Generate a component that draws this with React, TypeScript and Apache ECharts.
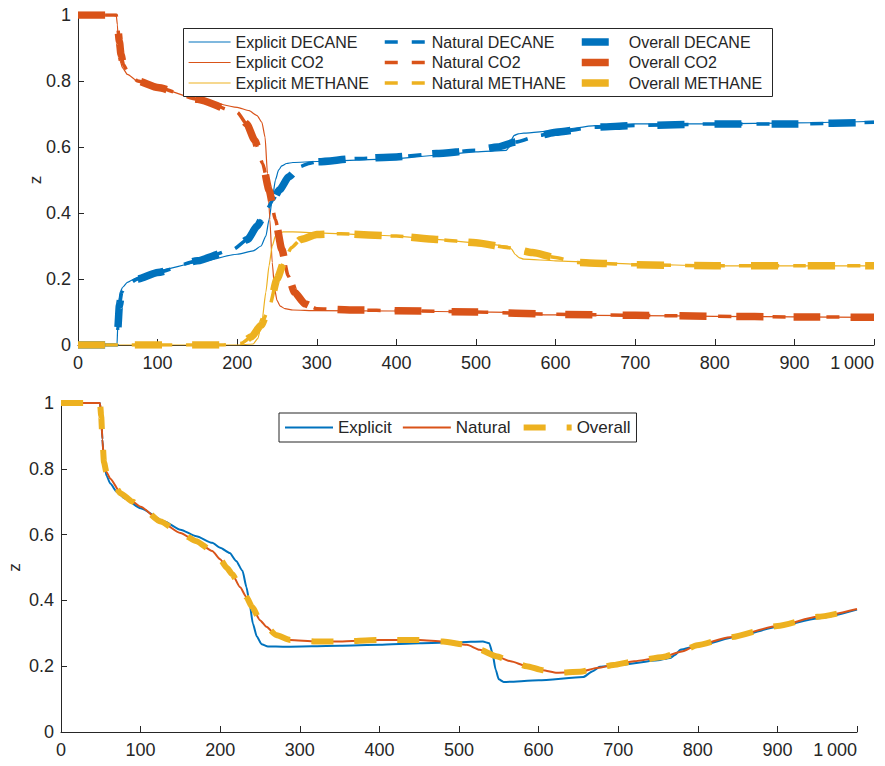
import React, { useEffect, useRef } from "react";
import * as echarts from "echarts";

const BLUE = "#0072BD";
const ORANGE = "#D95319";
const YELLOW = "#EDB120";
const INK = "#262626";
const FONT = "'Liberation Sans', Arial, Helvetica, sans-serif";

// ---- Upper panel: overall mole fraction z of each component ----
const explicitDecaneX = [0, 49, 50, 51, 53, 56, 62, 75, 100, 150, 200, 220, 230, 236, 240, 244, 248, 252, 256, 262, 270, 300, 350, 400, 450, 500, 538, 542, 545, 548, 553, 560, 600, 650, 700, 800, 900, 1000];
const explicitDecaneZ = [0, 0, 0.06, 0.13, 0.16, 0.175, 0.19, 0.205, 0.225, 0.25, 0.275, 0.285, 0.3, 0.33, 0.38, 0.44, 0.5, 0.53, 0.543, 0.55, 0.553, 0.556, 0.56, 0.565, 0.575, 0.585, 0.59, 0.6, 0.625, 0.635, 0.64, 0.642, 0.65, 0.665, 0.67, 0.67, 0.673, 0.678];

const naturalDecaneX = [0, 49, 50, 52, 55, 60, 75, 100, 150, 195, 213, 225, 237, 245, 253, 265, 278, 290, 300, 350, 400, 450, 500, 527, 550, 580, 600, 650, 700, 800, 900, 1000];
const naturalDecaneZ = [0, 0, 0.05, 0.12, 0.16, 0.18, 0.2, 0.22, 0.255, 0.29, 0.32, 0.36, 0.41, 0.44, 0.47, 0.51, 0.54, 0.55, 0.555, 0.565, 0.57, 0.58, 0.59, 0.6, 0.615, 0.635, 0.645, 0.66, 0.665, 0.67, 0.67, 0.675];

const explicitCo2X = [0, 48, 49.5, 51, 53, 56, 62, 75, 100, 150, 200, 215, 225, 231, 235, 238, 241, 244, 247, 250, 254, 260, 270, 300, 400, 500, 540, 548, 556, 600, 700, 800, 900, 1000];
const explicitCo2Z = [1, 1, 0.97, 0.9, 0.86, 0.84, 0.82, 0.8, 0.78, 0.745, 0.72, 0.71, 0.695, 0.675, 0.63, 0.52, 0.38, 0.25, 0.17, 0.135, 0.118, 0.11, 0.106, 0.104, 0.103, 0.1, 0.099, 0.096, 0.093, 0.091, 0.089, 0.087, 0.085, 0.084];

const naturalCo2X = [0, 48, 50, 52, 54, 57, 62, 75, 100, 150, 200, 212, 222, 232, 240, 248, 256, 264, 272, 285, 300, 350, 400, 500, 600, 700, 800, 900, 1000];
const naturalCo2Z = [1, 1, 0.96, 0.92, 0.88, 0.85, 0.83, 0.8, 0.78, 0.745, 0.705, 0.67, 0.62, 0.55, 0.47, 0.38, 0.29, 0.21, 0.16, 0.125, 0.11, 0.106, 0.104, 0.1, 0.093, 0.09, 0.087, 0.085, 0.084];

const explicitMethaneX = [0, 200, 220, 226, 231, 236, 240, 244, 248, 252, 258, 270, 300, 350, 400, 450, 500, 540, 545, 549, 554, 560, 600, 650, 700, 800, 900, 1000];
const explicitMethaneZ = [0, 0, 0.003, 0.02, 0.07, 0.16, 0.24, 0.3, 0.33, 0.34, 0.343, 0.343, 0.34, 0.335, 0.33, 0.32, 0.31, 0.3, 0.29, 0.275, 0.265, 0.26, 0.255, 0.25, 0.245, 0.24, 0.24, 0.24];

const naturalMethaneX = [0, 180, 205, 218, 230, 241, 250, 260, 268, 280, 300, 330, 400, 450, 500, 540, 571, 600, 626, 650, 700, 800, 900, 1000];
const naturalMethaneZ = [0, 0, 0.005, 0.025, 0.06, 0.12, 0.2, 0.26, 0.295, 0.32, 0.335, 0.337, 0.33, 0.32, 0.31, 0.295, 0.28, 0.265, 0.25, 0.248, 0.243, 0.24, 0.24, 0.24];

// Overall-variable solution coincides with the natural-variable one
const overallDecaneX = naturalDecaneX;
const overallDecaneZ = naturalDecaneZ;
const overallCo2X = naturalCo2X;
const overallCo2Z = naturalCo2Z;
const overallMethaneX = naturalMethaneX;
const overallMethaneZ = naturalMethaneZ;

// ---- Lower panel: single profile z for the three formulations ----
const lowerExplicitX = [0, 49, 50.5, 52, 54, 57, 62, 70, 80, 100, 130, 150, 170, 190, 200, 212, 220, 228, 233, 237, 241, 246, 252, 260, 280, 350, 400, 450, 500, 530, 538, 542, 546, 550, 556, 600, 656, 668, 677, 700, 750, 765, 772, 778, 800, 850, 900, 950, 1000];
const lowerExplicitZ = [1, 1, 0.96, 0.89, 0.82, 0.78, 0.755, 0.73, 0.71, 0.68, 0.64, 0.615, 0.595, 0.575, 0.56, 0.544, 0.52, 0.49, 0.44, 0.39, 0.33, 0.29, 0.267, 0.26, 0.259, 0.262, 0.265, 0.27, 0.273, 0.275, 0.27, 0.24, 0.19, 0.16, 0.152, 0.157, 0.167, 0.185, 0.198, 0.203, 0.218, 0.225, 0.235, 0.25, 0.262, 0.29, 0.32, 0.345, 0.372];

const lowerNaturalX = [0, 49, 50.5, 52, 54, 57, 62, 75, 90, 100, 125, 150, 170, 190, 200, 208, 215, 225, 233, 240, 250, 258, 270, 288, 320, 350, 400, 450, 480, 510, 526, 547, 565, 585, 605, 623, 652, 675, 694, 720, 756, 780, 799, 840, 900, 950, 1000];
const lowerNaturalZ = [1, 1, 0.96, 0.89, 0.82, 0.79, 0.77, 0.725, 0.7, 0.685, 0.64, 0.605, 0.58, 0.55, 0.525, 0.5, 0.48, 0.44, 0.41, 0.38, 0.34, 0.32, 0.295, 0.28, 0.275, 0.275, 0.28, 0.28, 0.275, 0.265, 0.25, 0.23, 0.215, 0.2, 0.188, 0.18, 0.183, 0.195, 0.204, 0.215, 0.228, 0.245, 0.264, 0.288, 0.322, 0.35, 0.374];

const lowerOverallX = lowerNaturalX;
const lowerOverallZ = lowerNaturalZ;

const xTicks = { min: 0, max: 1000, interval: 100 };
const zTicks = { min: 0, max: 1, interval: 0.2 };

const pairs = (xs: number[], zs: number[]) => xs.map((x, i) => [x, zs[i]]);

function curve(
  name: string,
  xs: number[],
  zs: number[],
  color: string,
  width: number,
  dash: number[] | "solid",
  grid: number,
  z: number
) {
  return {
    type: "line",
    name,
    xAxisIndex: grid,
    yAxisIndex: grid,
    data: pairs(xs, zs),
    symbol: "none",
    smooth: 0.2,
    smoothMonotone: "x",
    silent: true,
    z,
    itemStyle: { color },
    lineStyle: { color, width, type: dash, cap: "butt", join: "round" },
  };
}

const thousands = (v: number) =>
  String(v).replace(/\B(?=(\d{3})+(?!\d))/g, "\u2009");

function xAxis(grid: number) {
  return {
    type: "value",
    gridIndex: grid,
    ...xTicks,
    axisLine: { lineStyle: { color: INK, width: 1 } },
    axisTick: { inside: true, length: 6, lineStyle: { color: INK } },
    axisLabel: {
      color: INK,
      fontSize: 18,
      fontFamily: FONT,
      margin: 9,
      formatter: thousands,
      showMaxLabel: true,
      alignMaxLabel: "right",
    },
    splitLine: { show: false },
  };
}

function yAxis(grid: number, nameGap: number) {
  return {
    type: "value",
    gridIndex: grid,
    ...zTicks,
    name: "z",
    nameLocation: "middle",
    nameGap,
    nameMoveOverlap: false,
    nameTextStyle: { color: INK, fontSize: 17, fontFamily: FONT },
    axisLine: { show: true, lineStyle: { color: INK, width: 1 } },
    axisTick: { show: true, inside: true, length: 6, lineStyle: { color: INK } },
    axisLabel: { color: INK, fontSize: 18, fontFamily: FONT, margin: 7 },
    splitLine: { show: false },
  };
}

const NATURAL_DASH = [13, 14];
const OVERALL_DASH = [27, 30];
const LOWER_OVERALL_DASH = [22, 21];

// legend samples show only the stroke, no marker
const hiddenMarker = { opacity: 0, color: "transparent", borderWidth: 0 };

const topLegend = (names: string[], left: number, itemWidth: number) => ({
  data: names,
  left,
  top: 34,
  orient: "vertical",
  padding: 0,
  itemWidth,
  itemHeight: 14,
  itemGap: 4.5,
  selectedMode: false,
  z: 10,
  itemStyle: hiddenMarker,
  lineStyle: { width: "inherit" },
  textStyle: { color: INK, fontSize: 16, lineHeight: 16, fontFamily: FONT },
});

export default function App() {
  const ref = useRef<HTMLDivElement>(null);

  useEffect(() => {
    if (!ref.current) return;
    const chart = echarts.init(ref.current, null, { renderer: "svg" });
    chart.setOption({
      animation: false,
      backgroundColor: "#ffffff",
      textStyle: { fontFamily: FONT },
      grid: [
        { left: 78, top: 15, width: 796, height: 330, containLabel: false, outerBoundsMode: "none" },
        { left: 61, top: 403, width: 796, height: 329, containLabel: false, outerBoundsMode: "none" },
      ],
      xAxis: [xAxis(0), xAxis(1)],
      yAxis: [yAxis(0, 34), yAxis(1, 38)],
      graphic: [
        {
          type: "rect",
          z: 9,
          shape: { x: 183.5, y: 28.5, width: 589, height: 68 },
          style: { fill: "#ffffff", stroke: INK, lineWidth: 1 },
        },
      ],
      legend: [
        topLegend(["Explicit DECANE", "Explicit CO2", "Explicit METHANE"], 188, 42),
        topLegend(["Natural DECANE", "Natural CO2", "Natural METHANE"], 383, 42),
        topLegend(["Overall DECANE", "Overall CO2", "Overall METHANE"], 578, 42),
        {
          data: ["Explicit", "Natural", "Overall"],
          left: 279,
          top: 413,
          orient: "horizontal",
          padding: [6, 6, 6, 5],
          itemWidth: 48,
          itemHeight: 14,
          itemGap: 10,
          selectedMode: false,
          backgroundColor: "#ffffff",
          borderColor: INK,
          borderWidth: 1,
          borderRadius: 0,
          z: 10,
          itemStyle: hiddenMarker,
          lineStyle: { width: "inherit" },
          textStyle: { color: INK, fontSize: 17, fontFamily: FONT },
        },
      ],
      series: [
        curve("Explicit DECANE", explicitDecaneX, explicitDecaneZ, BLUE, 1.2, "solid", 0, 2),
        curve("Explicit CO2", explicitCo2X, explicitCo2Z, ORANGE, 1.2, "solid", 0, 2),
        curve("Explicit METHANE", explicitMethaneX, explicitMethaneZ, YELLOW, 1.2, "solid", 0, 2),
        curve("Natural DECANE", naturalDecaneX, naturalDecaneZ, BLUE, 3.5, NATURAL_DASH, 0, 3),
        curve("Natural CO2", naturalCo2X, naturalCo2Z, ORANGE, 3.5, NATURAL_DASH, 0, 3),
        curve("Natural METHANE", naturalMethaneX, naturalMethaneZ, YELLOW, 3.5, NATURAL_DASH, 0, 3),
        curve("Overall DECANE", overallDecaneX, overallDecaneZ, BLUE, 7.5, OVERALL_DASH, 0, 4),
        curve("Overall CO2", overallCo2X, overallCo2Z, ORANGE, 7.5, OVERALL_DASH, 0, 4),
        curve("Overall METHANE", overallMethaneX, overallMethaneZ, YELLOW, 7.5, OVERALL_DASH, 0, 4),
        curve("Explicit", lowerExplicitX, lowerExplicitZ, BLUE, 2, "solid", 1, 2),
        curve("Natural", lowerNaturalX, lowerNaturalZ, ORANGE, 2, "solid", 1, 3),
        curve("Overall", lowerOverallX, lowerOverallZ, YELLOW, 6, LOWER_OVERALL_DASH, 1, 4),
      ],
    });
    return () => chart.dispose();
  }, []);

  return (
    <div
      ref={ref}
      style={{ position: "absolute", left: 0, top: 0, width: 885, height: 766 }}
    />
  );
}
